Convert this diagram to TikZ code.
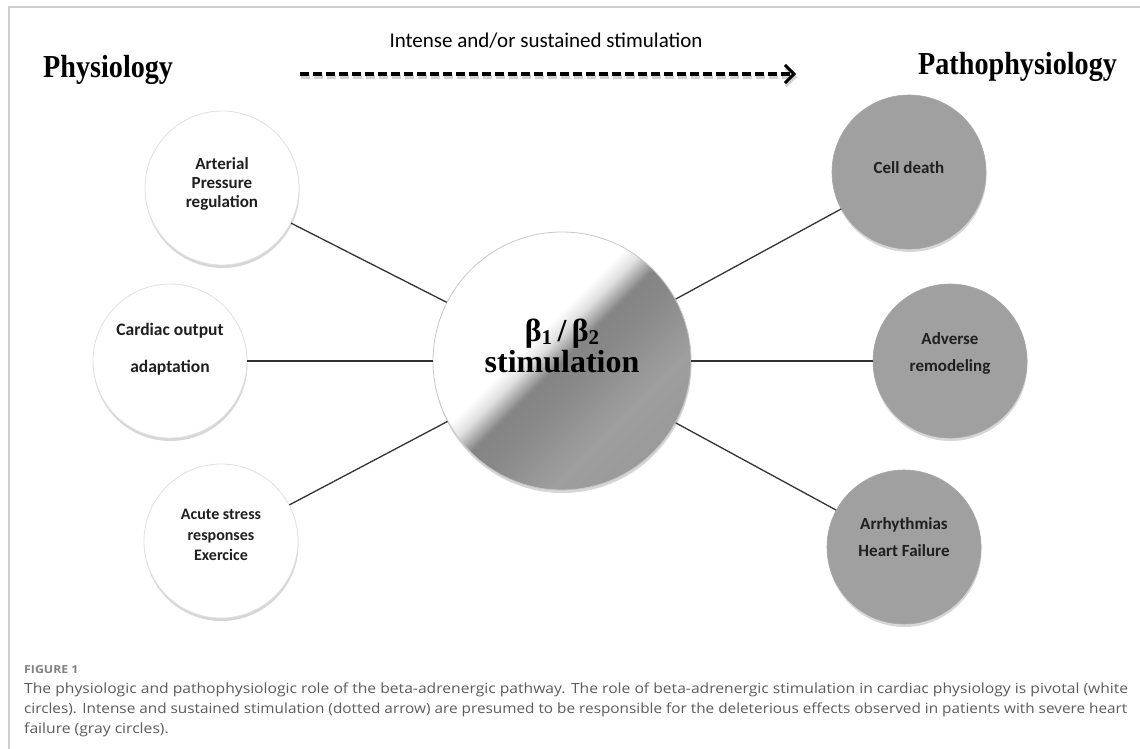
\documentclass[tikz,border=0pt]{standalone}
\usepackage{fontspec}
\usepackage{graphicx}
\usetikzlibrary{arrows.meta,shadows}
\setmainfont{Liberation Serif}
\newfontfamily\headfont{Liberation Serif}[FakeStretch=0.88]
\newfontfamily\calfont{Carlito}
\newfontfamily\capfont{Open Sans}[FakeStretch=1.12]

\definecolor{circgray}{HTML}{A0A0A0}
\definecolor{linegray}{HTML}{333333}
\definecolor{capgray}{HTML}{5C5C5C}
\definecolor{framegray}{HTML}{CFCFCF}

\pgfdeclarehorizontalshading{betashade}{100bp}{color(0bp)=(white); color(43bp)=(white); color(46bp)=(black!12); color(50bp)=(black!48); color(54bp)=(black!47); color(66bp)=(black!38); color(100bp)=(black!44)}

\tikzset{
  softshadow/.style={drop shadow={opacity=0.16, shadow xshift=0.5pt, shadow yshift=-3pt, fill=black}},
  whitecirc/.style={circle, minimum size=154pt, inner sep=0pt, fill=white, draw=black!12, line width=0.8pt, softshadow},
  graycirc/.style={circle, minimum size=154pt, inner sep=0pt, fill=circgray, draw=black!35, line width=0.6pt, softshadow},
  bigcirc/.style={circle, minimum size=258pt, inner sep=0pt, shading=betashade, shading angle=-45, draw=black!22, line width=0.8pt, softshadow},
  circtext/.style={font=\calfont\bfseries\fontsize{17}{19}\selectfont, text=black!88, align=center, inner sep=0pt},
  link/.style={draw=linegray, line width=1.3pt},
  heading/.style={font=\headfont\bfseries\fontsize{32}{34}\selectfont, inner sep=0pt, anchor=base west},
  captext/.style={font=\capfont\fontsize{14}{16}\selectfont, text=capgray, anchor=base west, inner sep=0pt},
  dasharrow/.style={line width=3.5pt, dash pattern=on 9pt off 4pt, -{Straight Barb[length=9pt,width=18pt,line width=3pt]}},
}

\begin{document}
\begin{tikzpicture}[x=1pt,y=-1pt]
\useasboundingbox (0,0) rectangle (1140,749);
\fill[white] (0,0) rectangle (1140,749);
\draw[framegray, line width=2pt] (1140,7) -- (9,7) -- (9,749);

% headings
\node[heading] (phys) at (43,78) {Physiology};
\node[heading] (patho) at (918,75) {Pathophysiology};
\node[font=\calfont\fontsize{21}{23}\selectfont, inner sep=0pt] (toplbl) at (546,41) {Intense and/or sustained stimulation};

% dashed arrow
\coordinate (as) at (300,74);
\coordinate (ae) at (796,74);
\coordinate (as2) at (301,77);
\coordinate (ae2) at (797,77);
\draw[dasharrow, draw=black!35, opacity=0.5] (as2) -- (ae2);
\draw[dasharrow] (as) -- (ae);

% circles
\node[bigcirc] (ctr) at (562,361) {};
\node[whitecirc] (art) at (222,188) {};
\node[whitecirc] (car) at (170,361) {};
\node[whitecirc] (acu) at (221,541) {};
\node[graycirc] (cel) at (909,172) {};
\node[graycirc] (adv) at (950,361) {};
\node[graycirc] (arr) at (904,547) {};

% connectors
\draw[link] (art) -- (ctr);
\draw[link] (car) -- (ctr);
\draw[link] (acu) -- (ctr);
\draw[link] (ctr) -- (cel);
\draw[link] (ctr) -- (adv);
\draw[link] (ctr) -- (arr);

% labels
\node[font=\bfseries\fontsize{32}{31}\selectfont, align=center, inner sep=0pt] (ctrlbl) at (562,346) {β\raisebox{-0.1em}{\fontsize{21}{21}\selectfont 1}\,/\,β\raisebox{-0.1em}{\fontsize{21}{21}\selectfont 2}\\stimulation};
\node[circtext] (artlbl) at (222,184) {Arterial\\Pressure\\regulation};
\node[circtext, font=\calfont\bfseries\fontsize{17.5}{37}\selectfont] (carlbl) at (170,349) {Cardiac output\\adaptation};
\node[circtext, font=\calfont\bfseries\fontsize{16}{20.5}\selectfont] (aculbl) at (221,535) {Acute stress\\responses\\Exercice};
\node[circtext] (cellbl) at (909,168) {Cell death};
\node[circtext, font=\calfont\bfseries\fontsize{17}{27}\selectfont] (advlbl) at (950,353) {Adverse\\remodeling};
\node[circtext, font=\calfont\bfseries\fontsize{17}{27}\selectfont] (arrlbl) at (904,537) {Arrhythmias\\Heart Failure};

% caption
\node[captext, font=\capfont\bfseries\fontsize{11}{12}\selectfont, text=black!50] (fig) at (24,673) {FIGURE 1};
\node[captext] (cap1) at (24,693) {\resizebox{1104pt}{\height}{The physiologic and pathophysiologic role of the beta-adrenergic pathway. The role of beta-adrenergic stimulation in cardiac physiology is pivotal (white}};
\node[captext] (cap2) at (24,713) {\resizebox{1103pt}{\height}{circles). Intense and sustained stimulation (dotted arrow) are presumed to be responsible for the deleterious effects observed in patients with severe heart}};
\node[captext] (cap3) at (24,733) {failure (gray circles).};
\end{tikzpicture}
\end{document}
